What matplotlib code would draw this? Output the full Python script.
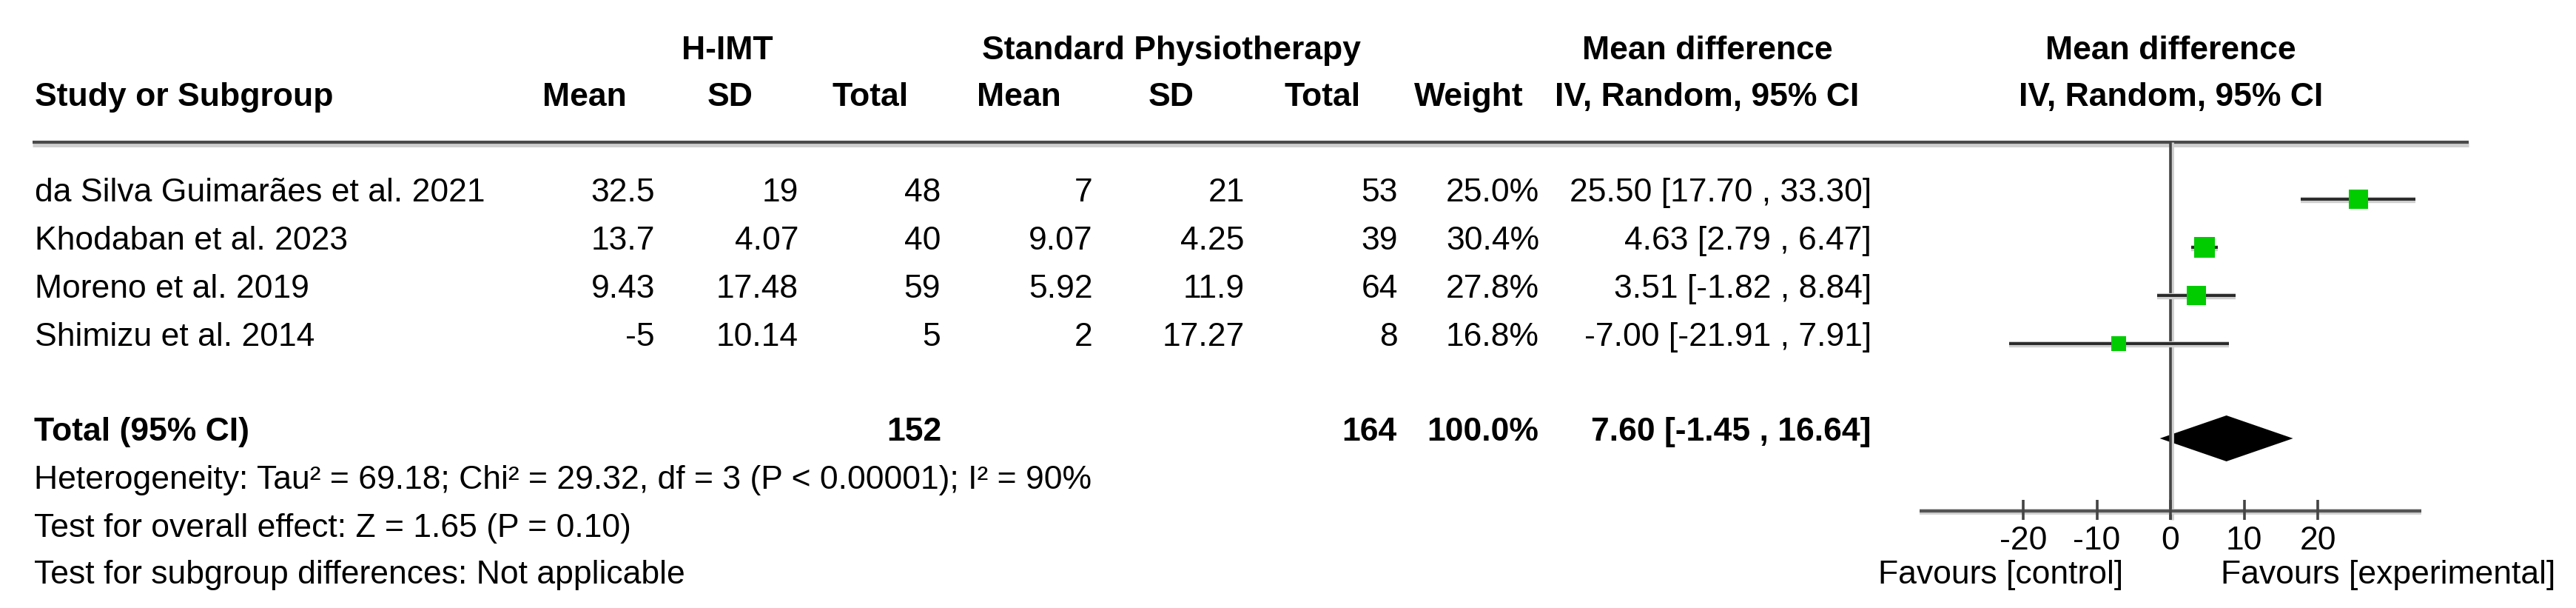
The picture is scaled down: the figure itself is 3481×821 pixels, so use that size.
import matplotlib
matplotlib.use("Agg")
import matplotlib.pyplot as plt

# forest plot data
studies = ["da Silva Guimarães et al. 2021", "Khodaban et al. 2023",
           "Moreno et al. 2019", "Shimizu et al. 2014"]
himt_mean = [32.5, 13.7, 9.43, -5]
himt_sd = [19, 4.07, 17.48, 10.14]
himt_n = [48, 40, 59, 5]
std_mean = [7, 9.07, 5.92, 2]
std_sd = [21, 4.25, 11.9, 17.27]
std_n = [53, 39, 64, 8]
weights = [25.0, 30.4, 27.8, 16.8]
md = [25.50, 4.63, 3.51, -7.00]
ci_lo = [17.70, 2.79, -1.82, -21.91]
ci_hi = [33.30, 6.47, 8.84, 7.91]
total_n = [152, 164]
total_md, total_lo, total_hi = 7.60, -1.45, 16.64
ticks = [-20, -10, 0, 10, 20]
footer = ["Heterogeneity: Tau\u00b2 = 69.18; Chi\u00b2 = 29.32, df = 3 (P < 0.00001); I\u00b2 = 90%",
          "Test for overall effect: Z = 1.65 (P = 0.10)",
          "Test for subgroup differences: Not applicable"]

W, H = 3481, 821
plt.rcParams['font.family'] = ['Liberation Sans', 'DejaVu Sans']
FS = 32
DARK = '#2a2a2a'
SHADOW = '#cfcfcf'
GREEN = '#00cc00'

fig = plt.figure(figsize=(W / 100, H / 100), dpi=100)
ax = fig.add_axes([0, 0, 1, 1])
ax.set_xlim(0, W)
ax.set_ylim(H, 0)
ax.axis('off')

def txt(x, y, s, ha='left', bold=False):
    ax.text(x, y, s, ha=ha, va='baseline', fontsize=FS,
            fontweight='bold' if bold else 'normal', color='black')

# header
txt(983, 80, "H-IMT", 'center', True)
txt(1583, 80, "Standard Physiotherapy", 'center', True)
txt(2307, 80, "Mean difference", 'center', True)
txt(2933, 80, "Mean difference", 'center', True)
txt(47, 143, "Study or Subgroup", bold=True)
for xc, lab in [(790, "Mean"), (987, "SD"), (1176, "Total"), (1377, "Mean"),
                (1583, "SD"), (1787, "Total"), (1985, "Weight"),
                (2307, "IV, Random, 95% CI"), (2934, "IV, Random, 95% CI")]:
    txt(xc, 143, lab, 'center', True)

# header rule with its grey shadow
ax.plot([44, 3336], [195, 195], color=SHADOW, lw=5, solid_capstyle='butt')
ax.plot([44, 3336], [192, 192], color='#4a4a4a', lw=3, solid_capstyle='butt')

# study rows
cols = [885, 1079, 1271, 1477, 1682, 1889, 2080, 2529]
baselines = [272, 337, 402, 467]
for i, name in enumerate(studies):
    y = baselines[i]
    txt(47, y, name)
    vals = [f"{himt_mean[i]:g}", f"{himt_sd[i]:g}", f"{himt_n[i]}",
            f"{std_mean[i]:g}", f"{std_sd[i]:g}", f"{std_n[i]}",
            f"{weights[i]:.1f}%",
            f"{md[i]:.2f} [{ci_lo[i]:.2f} , {ci_hi[i]:.2f}]"]
    for xr, v in zip(cols, vals):
        txt(xr, y, v, 'right')

# total row
txt(46, 595, "Total (95% CI)", bold=True)
txt(1272, 595, f"{total_n[0]}", 'right', True)
txt(1888, 595, f"{total_n[1]}", 'right', True)
txt(2079, 595, "100.0%", 'right', True)
txt(2529, 595, f"{total_md:.2f} [{total_lo:.2f} , {total_hi:.2f}]", 'right', True)

for y, s in zip([660, 725, 788], footer):
    txt(46, y, s)

# forest panel
ppu, x0, half = 9.95, 2933, 34.1
fx = fig.add_axes([(x0 - half * ppu) / W, 0, 2 * half * ppu / W, 1])
fx.set_xlim(-half, half)
fx.set_ylim(H, 0)
fx.axis('off')

# zero line
fx.plot([0.25, 0.25], [192, 702], color=SHADOW, lw=3.5, solid_capstyle='butt', clip_on=False)
fx.plot([0, 0], [192, 702], color='#444444', lw=2.6, solid_capstyle='butt', clip_on=False)

for i in range(len(studies)):
    y = baselines[i] - 3
    fx.plot([ci_lo[i], ci_hi[i]], [y + 1, y + 1], color=SHADOW, lw=6,
            solid_capstyle='butt', clip_on=False)
    fx.plot([ci_lo[i], ci_hi[i]], [y, y], color=DARK, lw=2.8,
            solid_capstyle='butt', clip_on=False)
    side = 5.08 * weights[i] ** 0.5 * 0.72
    fx.plot(md[i], y, marker='s', ms=side, color=GREEN, mec=GREEN, mew=0,
            clip_on=False)

# pooled diamond
yc, hh = 592, 31
fx.fill([total_lo, total_md, total_hi, total_md], [yc, yc - hh, yc, yc + hh],
        color='black', lw=0, clip_on=False)

# axis
fx.plot([-half, half], [691, 691], color=SHADOW, lw=5.5, solid_capstyle='butt', clip_on=False)
fx.plot([-half, half], [690, 690], color='#555555', lw=3, solid_capstyle='butt', clip_on=False)
for t in ticks:
    fx.plot([t, t], [675, 702], color='#444444', lw=2.6, solid_capstyle='butt', clip_on=False)
    fx.text(t, 742, f"{t}", ha='center', va='baseline', fontsize=FS)
fx.text(-6.4, 788, "Favours [control]", ha='right', va='baseline', fontsize=FS)
fx.text(6.8, 788, "Favours [experimental]", ha='left', va='baseline', fontsize=FS)

fig.savefig("out.png", dpi=100)
